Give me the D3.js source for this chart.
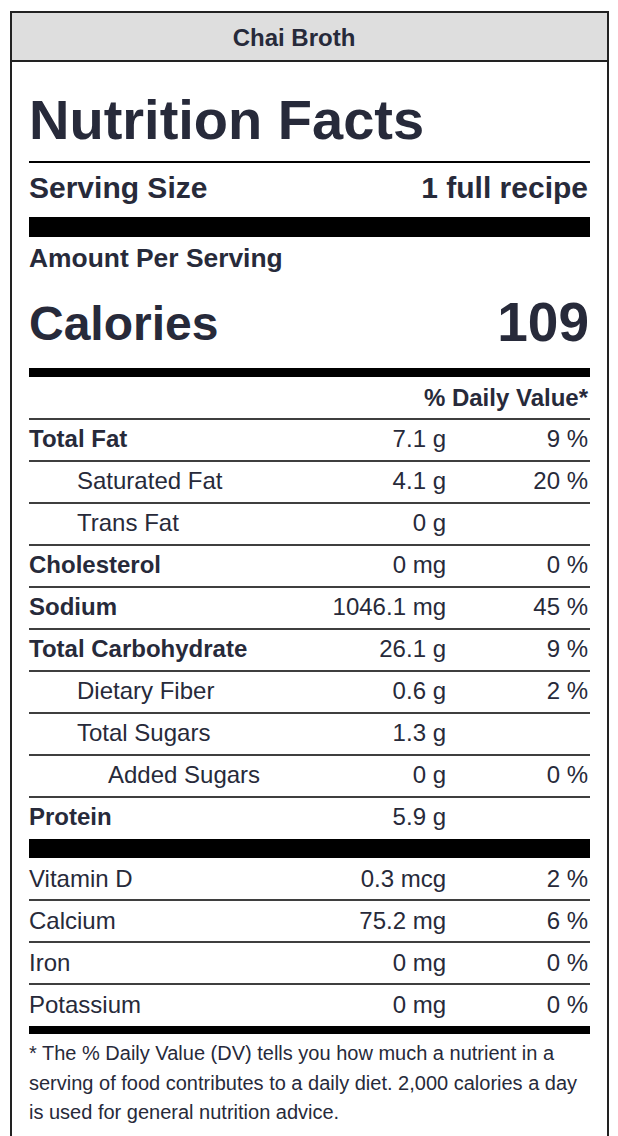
<!DOCTYPE html>
<html>
<head>
<meta charset="utf-8">
<script src="https://cdn.jsdelivr.net/npm/d3@7"></script>
<style>
  body { margin: 0; background: #fff; }
  svg text { font-family: "Liberation Sans", Arial, Helvetica, sans-serif; fill: #272a3a; }
</style>
</head>
<body>
<svg width="618" height="1136"></svg>
<script>
// label data
var recipeName = "Chai Broth";
var servingSize = "1 full recipe";
var calories = 109;

var nutrients = ["Total Fat", "Saturated Fat", "Trans Fat", "Cholesterol", "Sodium",
	"Total Carbohydrate", "Dietary Fiber", "Total Sugars", "Added Sugars", "Protein"];
var nutrientAmounts = ["7.1 g", "4.1 g", "0 g", "0 mg", "1046.1 mg", "26.1 g", "0.6 g", "1.3 g", "0 g", "5.9 g"];
var nutrientDV = ["9 %", "20 %", "", "0 %", "45 %", "9 %", "2 %", "", "0 %", ""];
var nutrientIndent = [0, 1, 1, 0, 0, 0, 1, 1, 2, 0];

var vitamins = ["Vitamin D", "Calcium", "Iron", "Potassium"];
var vitaminAmounts = ["0.3 mcg", "75.2 mg", "0 mg", "0 mg"];
var vitaminDV = ["2 %", "6 %", "0 %", "0 %"];

var footnote = ["* The % Daily Value (DV) tells you how much a nutrient in a",
	"serving of food contributes to a daily diet. 2,000 calories a day",
	"is used for general nutrition advice."];

function drawLabel() {
	var svg = d3.select("svg");
	var left = 29, right = 590;
	var ink = "#000";

	// outer box + header band
	svg.append("rect").attr("x", 11).attr("y", 12).attr("width", 597).attr("height", 1140)
		.attr("fill", "#fff").attr("stroke", "#222").attr("stroke-width", 2);
	svg.append("rect").attr("x", 11).attr("y", 12).attr("width", 597).attr("height", 49)
		.attr("fill", "#dedede").attr("stroke", "#222").attr("stroke-width", 2);
	svg.append("text").attr("x", 294).attr("y", 46).attr("text-anchor", "middle")
		.style("font-size", "24px").style("font-weight", "bold").text(recipeName);

	svg.append("text").attr("x", left).attr("y", 139)
		.style("font-size", "56px").style("font-weight", "bold").text("Nutrition Facts");
	svg.append("rect").attr("x", left).attr("y", 161).attr("width", right - left).attr("height", 2).attr("fill", ink);

	svg.append("text").attr("x", left).attr("y", 198)
		.style("font-size", "30px").style("font-weight", "bold").text("Serving Size");
	svg.append("text").attr("x", 588).attr("y", 198).attr("text-anchor", "end")
		.style("font-size", "30px").style("font-weight", "bold").text(servingSize);
	svg.append("rect").attr("x", left).attr("y", 217).attr("width", right - left).attr("height", 20).attr("fill", ink);

	svg.append("text").attr("x", left).attr("y", 267)
		.style("font-size", "26.4px").style("font-weight", "bold").text("Amount Per Serving");
	svg.append("text").attr("x", left).attr("y", 340)
		.style("font-size", "48px").style("font-weight", "bold").text("Calories");
	svg.append("text").attr("x", 589).attr("y", 341).attr("text-anchor", "end")
		.style("font-size", "55px").style("font-weight", "bold").text(calories);
	svg.append("rect").attr("x", left).attr("y", 368).attr("width", right - left).attr("height", 9).attr("fill", ink);

	svg.append("text").attr("x", 588).attr("y", 406).attr("text-anchor", "end")
		.style("font-size", "24px").style("font-weight", "bold").text("% Daily Value*");

	// nutrient rows
	var y = d3.scaleBand().domain(nutrients).range([419, 839]);
	var indentX = d3.scaleOrdinal().domain([0, 1, 2]).range([left, 77, 108]);
	var cols = {amount: 446, dv: 588};

	var rows = svg.append("g").selectAll("g").data(nutrients).enter().append("g")
		.attr("transform", d => "translate(0," + y(d) + ")");
	rows.append("rect").attr("x", left).attr("y", -0.75).attr("width", right - left).attr("height", 1.5).attr("fill", ink);
	rows.append("text").attr("x", (d, i) => indentX(nutrientIndent[i])).attr("y", 28)
		.style("font-size", "24px").style("font-weight", (d, i) => nutrientIndent[i] == 0 ? "bold" : "normal")
		.text(d => d);
	rows.append("text").attr("x", cols.amount).attr("y", 28).attr("text-anchor", "end")
		.style("font-size", "24px").text((d, i) => nutrientAmounts[i]);
	rows.append("text").attr("x", cols.dv).attr("y", 28).attr("text-anchor", "end")
		.style("font-size", "24px").text((d, i) => nutrientDV[i]);

	svg.append("rect").attr("x", left).attr("y", 839).attr("width", right - left).attr("height", 19).attr("fill", ink);

	// vitamins / minerals
	var yv = d3.scaleBand().domain(vitamins).range([858, 1026]);
	var vrows = svg.append("g").selectAll("g").data(vitamins).enter().append("g")
		.attr("transform", d => "translate(0," + yv(d) + ")");
	vrows.filter((d, i) => i > 0).append("rect").attr("x", left).attr("y", -0.75)
		.attr("width", right - left).attr("height", 1.5).attr("fill", ink);
	vrows.append("text").attr("x", left).attr("y", 29).style("font-size", "24px").text(d => d);
	vrows.append("text").attr("x", cols.amount).attr("y", 29).attr("text-anchor", "end")
		.style("font-size", "24px").text((d, i) => vitaminAmounts[i]);
	vrows.append("text").attr("x", cols.dv).attr("y", 29).attr("text-anchor", "end")
		.style("font-size", "24px").text((d, i) => vitaminDV[i]);

	svg.append("rect").attr("x", left).attr("y", 1026).attr("width", right - left).attr("height", 8).attr("fill", ink);

	svg.append("g").selectAll("text").data(footnote).enter().append("text")
		.attr("x", left).attr("y", (d, i) => 1060 + i * 29.5)
		.style("font-size", "20px").text(d => d);
}
drawLabel();
</script>
</body>
</html>
